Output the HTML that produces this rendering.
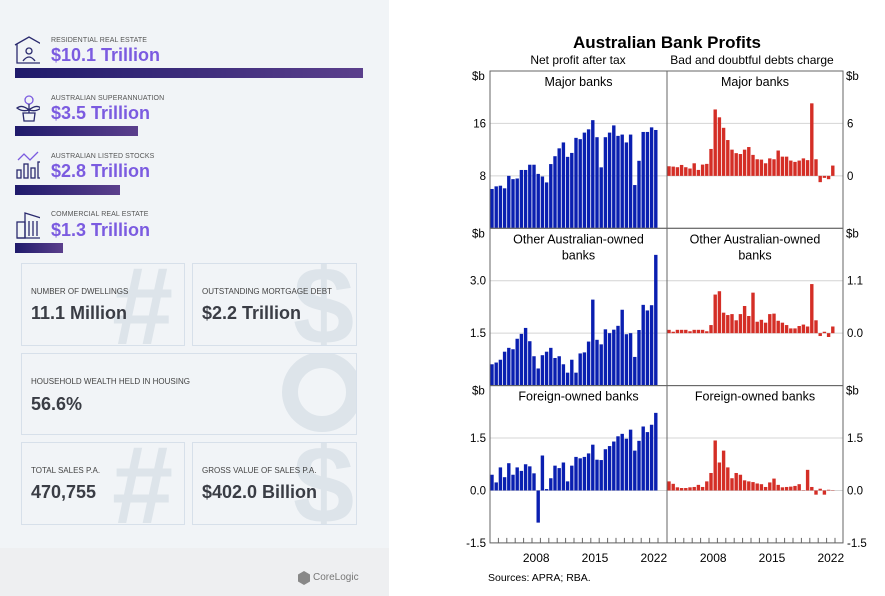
<!DOCTYPE html>
<html><head><meta charset="utf-8">
<style>
body{margin:0;width:885px;height:596px;background:#fff;position:relative;overflow:hidden;font-family:"Liberation Sans",sans-serif}
#info{position:absolute;left:0;top:0;width:389px;height:596px;background:#f1f4f7}
.lbl{position:absolute;font-size:7px;color:#555;letter-spacing:0.1px}
.val{position:absolute;font-size:18px;font-weight:bold;color:#7b5be0}
.bar{position:absolute;height:10px;background:linear-gradient(90deg,#1f1a6b,#5b3f8c)}
.box{position:absolute;border:1.5px solid #d7e0ea;box-sizing:border-box;overflow:hidden}
.box .l{position:absolute;left:9px;font-size:8px;color:#444}
.box .v{position:absolute;left:9px;font-size:18px;font-weight:bold;color:#3a3d45}
.wm{position:absolute;font-size:110px;font-weight:bold;color:#dde4ea;line-height:1}
svg{position:absolute;left:0;top:0}
</style></head><body>
<div id="info">
  <svg width="40" height="260">
    <g fill="none" stroke="#2a2a6e" stroke-width="1.3">
      <path d="M15 45 L29 37 L43 45 M17 44 V63 H41 V44"/><circle cx="29" cy="51" r="3"/><path d="M23 61 Q29 53 35 61"/>
      <circle cx="29" cy="100" r="4" stroke="#7b5be0"/><path d="M29 104 V113 M29 110 Q22 104 17 108 Q22 112 29 110 M29 110 Q36 104 41 108 Q36 112 29 110 M23 113 H35 L34 121 H24 Z"/>
      <path d="M18 160 L24 154 L30 160 L38 152" stroke="#7b5be0"/><rect x="17" y="170" width="4" height="8"/><rect x="24" y="164" width="4" height="14"/><rect x="31" y="168" width="4" height="10"/><rect x="38" y="162" width="4" height="16"/>
      <rect x="17" y="222" width="8" height="16"/><path d="M25 238 V213 L41 218 V238 H17"/><path d="M29 221 V236 M33 221 V236 M37 221 V236"/>
    </g>
  </svg>
  <div class="lbl" style="left:51px;top:37px">RESIDENTIAL REAL ESTATE</div>
  <div class="val" style="left:51px;top:45px">$10.1 Trillion</div>
  <div class="bar" style="left:15px;top:68px;width:348px"></div>
  <div class="lbl" style="left:51px;top:95px">AUSTRALIAN SUPERANNUATION</div>
  <div class="val" style="left:51px;top:103px">$3.5 Trillion</div>
  <div class="bar" style="left:15px;top:126px;width:123px"></div>
  <div class="lbl" style="left:51px;top:153px">AUSTRALIAN LISTED STOCKS</div>
  <div class="val" style="left:51px;top:161px">$2.8 Trillion</div>
  <div class="bar" style="left:15px;top:185px;width:105px"></div>
  <div class="lbl" style="left:51px;top:211px">COMMERCIAL REAL ESTATE</div>
  <div class="val" style="left:51px;top:220px">$1.3 Trillion</div>
  <div class="bar" style="left:15px;top:243px;width:48px"></div>

  <div class="box" style="left:21px;top:263px;width:164px;height:83px"><div class="wm" style="left:90px;top:-12px">#</div><div class="l" style="top:23px">NUMBER OF DWELLINGS</div><div class="v" style="top:39px">11.1 Million</div></div>
  <div class="box" style="left:192px;top:263px;width:165px;height:83px"><div class="wm" style="left:100px;top:-12px">$</div><div class="l" style="top:23px">OUTSTANDING MORTGAGE DEBT</div><div class="v" style="top:39px">$2.2 Trillion</div></div>
  <div class="box" style="left:21px;top:353px;width:336px;height:82px"><div style="position:absolute;left:260px;top:-2px;width:80px;height:80px;border-radius:50%;border:16px solid #dde4ea;box-sizing:border-box"></div><div class="l" style="top:23px">HOUSEHOLD WEALTH HELD IN HOUSING</div><div class="v" style="top:40px">56.6%</div></div>
  <div class="box" style="left:21px;top:442px;width:164px;height:83px"><div class="wm" style="left:90px;top:-12px">#</div><div class="l" style="top:23px">TOTAL SALES P.A.</div><div class="v" style="top:39px">470,755</div></div>
  <div class="box" style="left:192px;top:442px;width:165px;height:83px"><div class="wm" style="left:100px;top:-12px">$</div><div class="l" style="top:23px">GROSS VALUE OF SALES P.A.</div><div class="v" style="top:39px">$402.0 Billion</div></div>
  <div style="position:absolute;left:0;top:548px;width:389px;height:48px;background:#eeeff1"></div>
  <div style="position:absolute;left:298px;top:571px;width:12px;height:14px;background:#888;clip-path:polygon(50% 0,100% 25%,100% 75%,50% 100%,0 75%,0 25%)"></div>
  <div style="position:absolute;left:313px;top:572px;font-size:10px;color:#777">CoreLogic</div>
</div>

<svg id="chart" width="885" height="596"></svg>
<script>
const startYear = 2003;
const tickYears = [2008, 2015, 2022];
const majorProfit = [6.0,6.4,6.5,6.1,8.0,7.5,7.6,8.9,8.9,9.7,9.7,8.3,7.9,7.0,9.8,11.0,12.2,13.1,10.9,11.5,13.8,13.6,14.6,15.1,16.5,13.9,9.3,13.9,14.6,15.7,14.1,14.3,13.1,14.3,6.6,10.3,14.7,14.7,15.4,15.0];
const majorBad = [1.1,1.06,0.99,1.25,0.99,0.84,1.44,0.68,1.29,1.37,3.08,7.6,6.7,5.5,4.1,3.0,2.6,2.5,3.0,3.3,2.4,1.9,1.86,1.44,2.0,1.9,2.9,2.2,2.2,1.75,1.6,1.75,2.0,1.8,8.3,1.9,-0.72,-0.23,-0.38,1.18];
const otherProfit = [0.61,0.66,0.74,0.97,1.08,1.04,1.34,1.48,1.65,1.27,0.84,0.49,0.87,0.97,1.08,0.79,0.84,0.61,0.37,0.74,0.37,0.92,0.95,1.26,2.46,1.31,1.18,1.61,1.5,1.6,1.71,2.17,1.47,1.5,0.82,1.59,2.31,2.15,2.3,3.74];
const otherBad = [0.07,0.03,0.07,0.07,0.07,0.04,0.07,0.07,0.07,0.04,0.17,0.81,0.88,0.43,0.38,0.40,0.27,0.40,0.57,0.36,0.85,0.24,0.28,0.22,0.40,0.41,0.26,0.22,0.17,0.10,0.10,0.15,0.18,0.14,1.03,0.27,-0.06,0.03,-0.08,0.14];
const foreignProfit = [0.45,0.23,0.66,0.38,0.78,0.45,0.66,0.56,0.75,0.69,0.49,-0.92,1.0,0.04,0.35,0.71,0.64,0.80,0.26,0.71,0.96,0.92,0.96,1.06,1.31,0.88,0.87,1.18,1.27,1.40,1.55,1.62,1.48,1.74,1.14,1.42,1.83,1.67,1.88,2.22];
const foreignBad = [0.26,0.19,0.09,0.07,0.07,0.09,0.1,0.16,0.1,0.26,0.5,1.43,0.8,1.14,0.66,0.35,0.5,0.45,0.29,0.26,0.24,0.2,0.18,0.1,0.23,0.34,0.16,0.09,0.1,0.11,0.13,0.18,0.01,0.59,0.1,-0.12,0.05,-0.12,0.02,0.01];
const leftTicks = [[8,16],[1.5,3.0],[-1.5,0.0,1.5]];
const rightTicks = [[0,6],[0.0,1.1],[-1.5,0.0,1.5]];
const leftTickLabels = [["8","16"],["1.5","3.0"],["-1.5","0.0","1.5"]];
const rightTickLabels = [["0","6"],["0.0","1.1"],["-1.5","0.0","1.5"]];
const leftDomains = [[0,24],[0,4.5],[-1.5,3.0]];
const rightDomains = [[-6,12],[-1.1,2.2],[-1.5,3.0]];
const panelTitles = [["Major banks"],["Other Australian-owned","banks"],["Foreign-owned banks"]];
const leftSeries = [majorProfit, otherProfit, foreignProfit];
const rightSeries = [majorBad, otherBad, foreignBad];

const svg = document.getElementById('chart');
const NS = 'http://www.w3.org/2000/svg';
function mk(tag, attrs, parent){const e=document.createElementNS(NS,tag);for(const k in attrs)e.setAttribute(k,attrs[k]);(parent||svg).appendChild(e);return e;}
const X0=490, XM=667, X1=843, TOP=71, PH=157.3, SLOT=4.2;
function xBand(i, left){return left + i*SLOT;}
function xYear(y, left){return left + ((y-startYear)*2+1)*SLOT;}
function yScale(v, dom, p){const t=TOP+p*PH, b=t+PH;return b-(v-dom[0])/(dom[1]-dom[0])*PH;}

let t=mk('text',{x:667,y:48,'text-anchor':'middle','font-size':17,'font-weight':'bold',fill:'#000'});t.textContent='Australian Bank Profits';

t=mk('text',{x:578,y:64,'text-anchor':'middle','font-size':12});t.textContent='Net profit after tax';

t=mk('text',{x:752,y:64,'text-anchor':'middle','font-size':12});t.textContent='Bad and doubtful debts charge';


for(let p=0;p<3;p++){
  const top=TOP+p*PH;
  const g=mk('g',{});
  
  
  leftTicks[p].forEach((v,k)=>{
    const y=yScale(v,leftDomains[p],p);
    mk('line',{x1:X0,x2:XM,y1:y,y2:y,stroke:'#d4d4d4','stroke-width':1},g);
    const tl=mk('text',{x:486,y:y+4,'text-anchor':'end','font-size':11.5},g);tl.textContent=leftTickLabels[p][k];
    
    
  });
  rightTicks[p].forEach((v,k)=>{
    const y=yScale(v,rightDomains[p],p);
    mk('line',{x1:XM,x2:X1,y1:y,y2:y,stroke:'#d4d4d4','stroke-width':1},g);
    const tl=mk('text',{x:847,y:y+4,'text-anchor':'start','font-size':11.5},g);tl.textContent=rightTickLabels[p][k];
    
    
  });
  let s=mk('text',{x:472,y:top+9,'font-size':11.5},g);s.textContent='$b';
  s=mk('text',{x:846,y:top+9,'font-size':11.5},g);s.textContent='$b';
  leftSeries[p].forEach((v,i)=>{
    const y0=yScale(0,leftDomains[p],p), y=yScale(v,leftDomains[p],p);
    const r=mk('rect',{x:xBand(i,X0)+0.3,y:Math.min(y,y0),width:SLOT-0.8,height:Math.abs(y0-y),fill:'#0a1fb0'},g);
    
    
  });
  rightSeries[p].forEach((v,i)=>{
    const y0=yScale(0,rightDomains[p],p), y=yScale(v,rightDomains[p],p);
    const r=mk('rect',{x:xBand(i,XM)+0.3,y:Math.min(y,y0),width:SLOT-0.8,height:Math.abs(y0-y),fill:'#d42e26'},g);
    
    
  });
  panelTitles[p].forEach((line,k)=>{
    const a=mk('text',{x:(X0+XM)/2,y:top+15+k*16,'text-anchor':'middle','font-size':12.5},g);a.textContent=line;
    
    
    const b=mk('text',{x:(XM+X1)/2,y:top+15+k*16,'text-anchor':'middle','font-size':12.5},g);b.textContent=line;
    
    
  });
  mk('rect',{x:X0,y:top,width:X1-X0,height:PH,fill:'none',stroke:'#666','stroke-width':1},g);
}
mk('line',{x1:XM,x2:XM,y1:TOP,y2:TOP+3*PH,stroke:'#666','stroke-width':1});
const bottom=TOP+3*PH;
for(let yr=startYear;yr<=2023;yr++){
  [X0,XM].forEach(L=>{const x=xYear(yr,L)-SLOT; if(x>L&&x<L+176) mk('line',{x1:x,x2:x,y1:bottom,y2:bottom-5,stroke:'#666','stroke-width':1});});
}
tickYears.forEach(yr=>{
  [X0,XM].forEach(L=>{
    const tl=mk('text',{x:xYear(yr,L),y:bottom+19,'text-anchor':'middle','font-size':12});tl.textContent=String(yr);
    
    
  });
});
t=mk('text',{x:488,y:581,'font-size':10.5});t.textContent='Sources: APRA; RBA.';

</script>
</body></html>
